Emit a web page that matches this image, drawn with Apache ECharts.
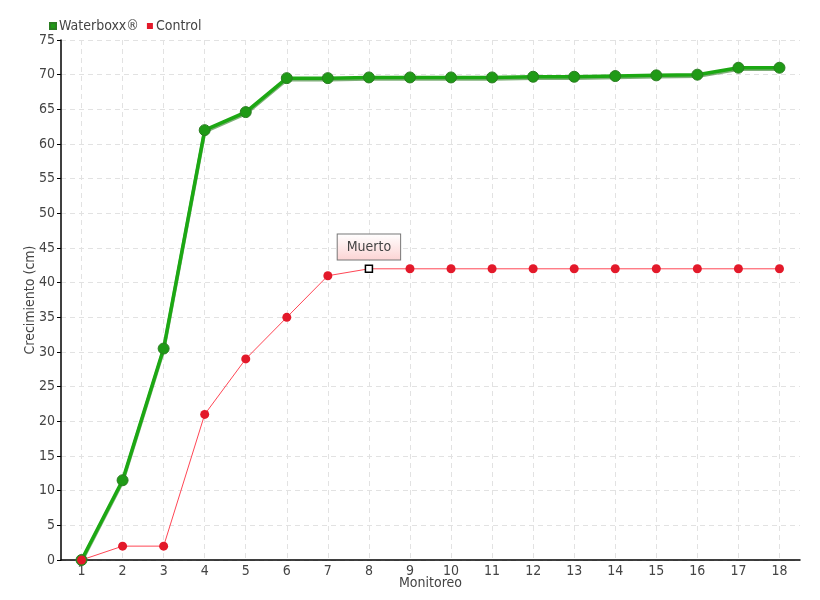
<!DOCTYPE html>
<html><head><meta charset="utf-8">
<script src="https://cdn.jsdelivr.net/npm/echarts@6/dist/echarts.min.js"></script>
<style>html,body{margin:0;padding:0;background:#fff}#c{width:820px;height:600px}</style>
</head><body><div id="c"></div>
<script>
const categories = ['1','2','3','4','5','6','7','8','9','10','11','12','13','14','15','16','17','18'];
const waterboxx = [0, 11.5, 30.5, 62, 64.6, 69.5, 69.5, 69.6, 69.6, 69.6, 69.6, 69.7, 69.7, 69.8, 69.9, 70.0, 71.0, 71.0];
const control = [0, 2, 2, 21, 29, 35, 41, 42, 42, 42, 42, 42, 42, 42, 42, 42, 42, 42];
const deadIndex = 7;
const deadLabel = 'Muerto';
const yTicks = {min: 0, max: 75, interval: 5};

const FONT = "'DejaVu Sans Condensed', 'DejaVu Sans', sans-serif";
const chart = echarts.init(document.getElementById('c'));
const controlData = control.map((v, i) => i === deadIndex ? {
  value: v, symbol: 'rect', symbolSize: 7,
  itemStyle: {color: '#fff', borderColor: '#000', borderWidth: 1.5},
  label: {show: true, position: 'top', distance: 5, formatter: deadLabel,
    fontFamily: FONT, fontSize: 14, color: '#444',
    backgroundColor: {type: 'linear', x: 0, y: 0, x2: 0, y2: 1,
      colorStops: [{offset: 0, color: '#ffffff'}, {offset: 1, color: '#fcd3d3'}]},
    borderColor: '#777', borderWidth: 1, padding: [6, 9, 5, 9]}
} : v);
chart.setOption({
  animation: false,
  textStyle: {fontFamily: FONT},
  legend: {left: 44, top: 14, itemWidth: 6, itemHeight: 6, itemGap: 8,
    icon: 'rect', textStyle: {fontFamily: FONT, fontSize: 14, color: '#444', padding: [0, 0, 0, -2]},
    data: ['Waterboxx®', 'Control']},
  grid: {left: 61, right: 20, top: 40, bottom: 40, containLabel: false},
  xAxis: {type: 'category', data: categories, boundaryGap: true,
    name: 'Monitoreo', nameLocation: 'middle', nameGap: 16, nameMoveOverlap: false,
    nameTextStyle: {fontFamily: FONT, fontSize: 14, color: '#444'},
    axisLine: {lineStyle: {color: '#000', width: 1.5}},
    axisTick: {alignWithLabel: true, length: 4, lineStyle: {color: '#555'}},
    axisLabel: {fontFamily: FONT, fontSize: 14, color: '#444', margin: 4},
    splitLine: {show: true, alignWithLabel: true, lineStyle: {color: '#e2e2e2', type: [5, 4]}}},
  yAxis: {type: 'value', min: yTicks.min, max: yTicks.max, interval: yTicks.interval,
    name: 'Crecimiento (cm)', nameLocation: 'middle', nameGap: 24, nameMoveOverlap: false,
    nameTextStyle: {fontFamily: FONT, fontSize: 14, color: '#444'},
    axisLine: {show: true, lineStyle: {color: '#000', width: 1.5}},
    axisTick: {show: true, length: 4, lineStyle: {color: '#000'}},
    axisLabel: {fontFamily: FONT, fontSize: 14, color: '#444', margin: 6},
    splitLine: {lineStyle: {color: '#e2e2e2', type: [5, 4]}}},
  series: [
    {name: 'Waterboxx®', type: 'line', data: waterboxx, color: '#1ea515',
     symbol: 'circle', symbolSize: 11, showAllSymbol: true,
     lineStyle: {color: '#1ca813', width: 3.5, shadowColor: 'rgba(20,110,10,0.55)', shadowOffsetY: 1.5, shadowBlur: 0},
     itemStyle: {color: '#1f9a16', borderColor: '#2b7d22', borderWidth: 1}},
    {name: 'Control', type: 'line', data: controlData, color: '#e8192c',
     symbol: 'circle', symbolSize: 9, showAllSymbol: true,
     lineStyle: {color: '#ff4655', width: 1},
     itemStyle: {color: '#e3192a'}}
  ]
});
</script></body></html>
